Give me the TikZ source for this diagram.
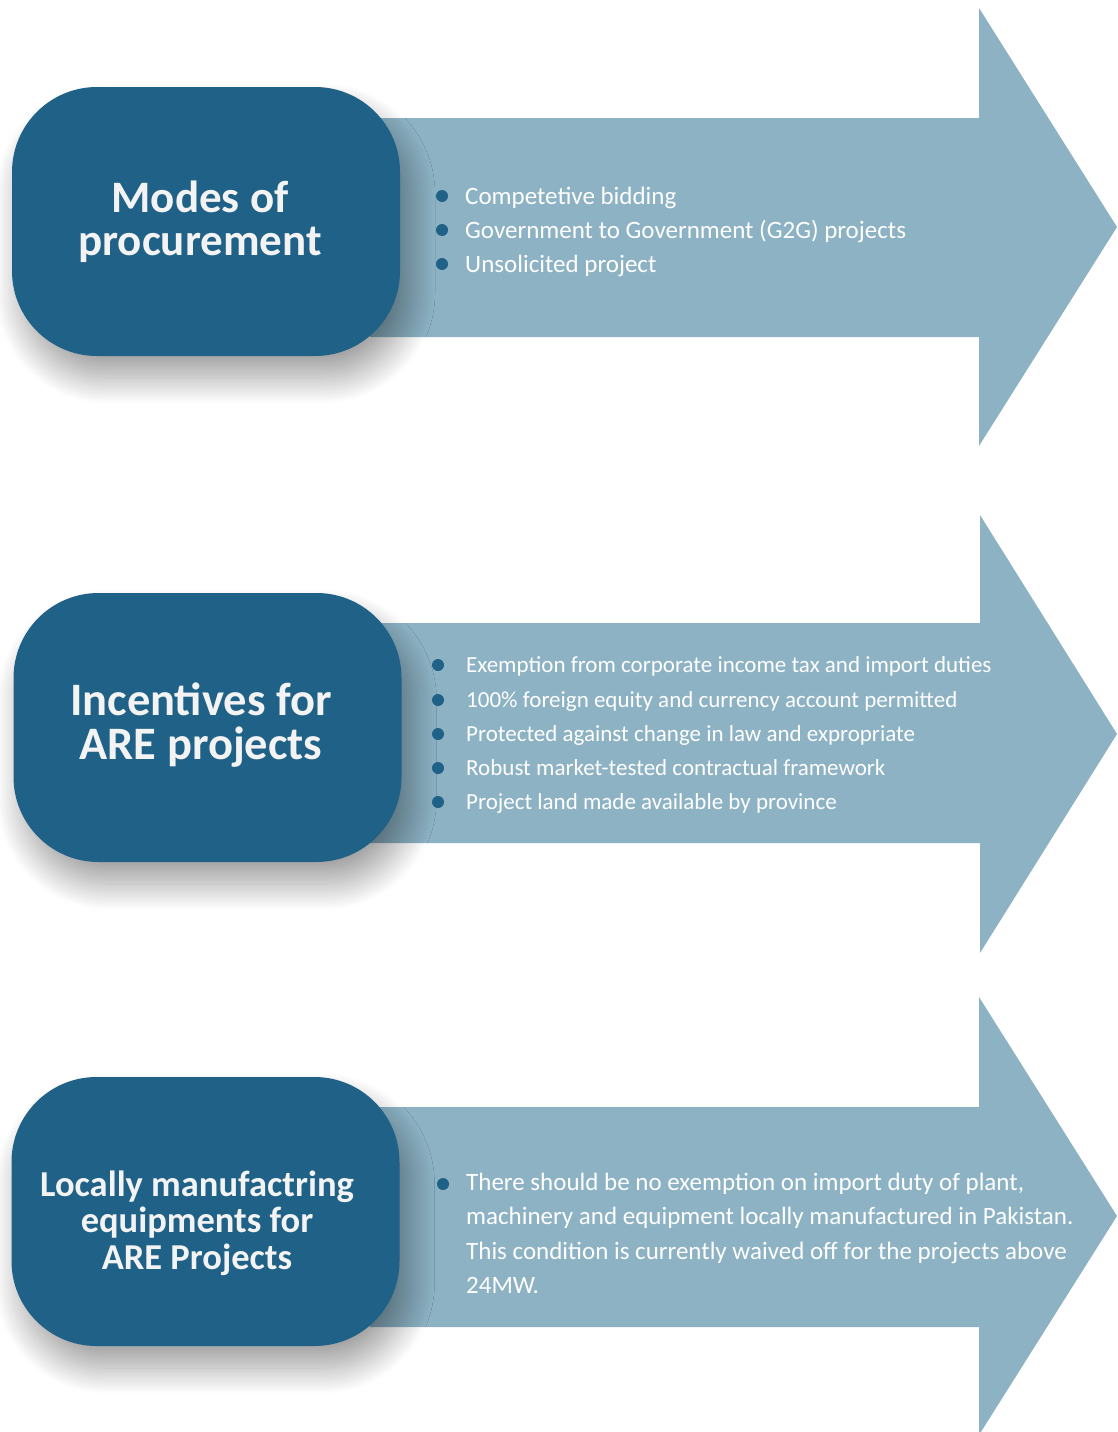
\documentclass[tikz,border=0pt]{standalone}
\usepackage{fontspec}
\setmainfont{Carlito}
\usetikzlibrary{shadows.blur}
\definecolor{boxblue}{RGB}{31,97,135}
\definecolor{arrowblue}{RGB}{140,178,196}
\definecolor{paper}{RGB}{243,243,243}

\begin{document}
\begin{tikzpicture}[x=1pt,y=-1pt,
  arrowshape/.style={fill=arrowblue, draw=none},
  titlebox/.style={fill=boxblue, draw=none, rounded corners=85pt,
    minimum width=388pt, minimum height=269pt, inner sep=0pt,
    blur shadow={shadow xshift=9pt, shadow yshift=-22pt,
      shadow blur radius=26pt, shadow blur steps=40, shadow opacity=38}},
  title/.style={text=paper, align=center, inner sep=0pt},
  bigtitle/.style={title, font=\fontsize{45}{43}\selectfont\bfseries},
  widetitle/.style={title, font=\fontsize{46.5}{44}\selectfont\bfseries},
  smalltitle/.style={title, font=\fontsize{36.5}{36.5}\selectfont\bfseries},
  dot/.style={circle, fill=boxblue, inner sep=0pt, minimum size=12pt},
  item/.style={text=white, anchor=base west, inner sep=0pt,
    font=\fontsize{25}{34}\selectfont},
  itemsmall/.style={item, font=\fontsize{23}{34}\selectfont},
  para/.style={text=white, anchor=base west, inner sep=0pt, align=left,
    font=\fontsize{25}{34.5}\selectfont}]

\useasboundingbox (0,0) rectangle (1117,1432);

% ---------- block 1 ----------
\fill[arrowshape] (370,118) -- (979,118) -- (979,8) -- (1117,227)
  -- (979,446) -- (979,337) -- (370,337) -- cycle;
\node[titlebox] (box1) at (206,221.5) {};
\node[bigtitle] (title1) at (200,222) {Modes of\\procurement};

\node[dot] (d11) at (442,196) {};
\node[dot] (d12) at (442,230) {};
\node[dot] (d13) at (442,264) {};
\node[item] (i11) at (465,204) {Competetive bidding};
\node[item] (i12) at (465,238) {Government to Government (G2G) projects};
\node[item] (i13) at (465,272) {Unsolicited project};

% ---------- block 2 ----------
\fill[arrowshape] (370,623) -- (980,623) -- (980,515) -- (1117,734)
  -- (980,953) -- (980,843) -- (370,843) -- cycle;
\node[titlebox] (box2) at (207.5,727.5) {};
\node[widetitle] (title2) at (201,725) {Incentives for\\ARE projects};

\node[dot] (d21) at (438,665) {};
\node[dot] (d22) at (438,700) {};
\node[dot] (d23) at (438,734) {};
\node[dot] (d24) at (438,768) {};
\node[dot] (d25) at (438,802) {};
\node[itemsmall] (i21) at (466,672) {Exemption from corporate income tax and import duties};
\node[itemsmall] (i22) at (466,707) {100\% foreign equity and currency account permitted};
\node[itemsmall] (i23) at (466,741) {Protected against change in law and expropriate};
\node[itemsmall] (i24) at (466,775) {Robust market-tested contractual framework};
\node[itemsmall] (i25) at (466,809) {Project land made available by province};

% ---------- block 3 ----------
\fill[arrowshape] (370,1107) -- (979,1107) -- (979,997) -- (1117,1216)
  -- (979,1435) -- (979,1327) -- (370,1327) -- cycle;
\node[titlebox] (box3) at (205.5,1211.5) {};
\node[smalltitle] (title3) at (197,1223) {Locally manufactring\\equipments for\\ARE Projects};

\node[dot] (d31) at (443,1184) {};
% multi-line node: its base anchor sits on the last line
\node[para] (i31) at (466,1293.5) {There should be no exemption on import duty of plant,\\machinery and equipment locally manufactured in Pakistan.\\This condition is currently waived off for the projects above\\24MW.};
\end{tikzpicture}
\end{document}
